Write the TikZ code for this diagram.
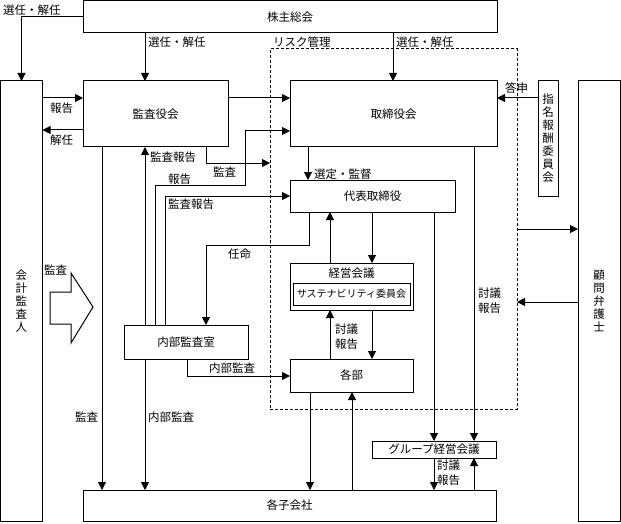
\documentclass[tikz,border=0pt]{standalone}
\usepackage{fontspec}
\setmainfont{Noto Sans CJK JP}
\usetikzlibrary{arrows.meta}
\begin{document}
\begin{tikzpicture}[x=1pt,y=-1pt,
  every node/.style={inner sep=0pt,outer sep=0pt},
  box/.style={draw,line width=1pt,anchor=north west,font=\fontsize{11.5}{13}\selectfont,align=center},
  lbl/.style={anchor=west,font=\fontsize{11.5}{15}\selectfont,align=left},
  arr/.style={line width=1pt,-{Triangle[length=8pt,width=8pt]}},
  ln/.style={line width=1pt}]
\useasboundingbox (0,0) rectangle (621,524);
% boxes
\node[box,minimum width=414pt,minimum height=32pt] (kabu) at (83,1) {株主総会};
\node[box,minimum width=42pt,minimum height=440pt] (kaikei) at (0.5,81) {会\\計\\監\\査\\人};
\node[box,minimum width=145pt,minimum height=66pt] (kansa) at (83,81) {監査役会};
\node[box,minimum width=207pt,minimum height=66pt] (tori) at (290,81) {取締役会};
\node[box,minimum width=20pt,minimum height=115pt] (shimei) at (538,81) {指\\名\\報\\酬\\委\\員\\会};
\node[box,minimum width=42pt,minimum height=440pt] (komon) at (578,81) {顧\\問\\弁\\護\\士};
\node[draw,dashed,dash pattern=on 3pt off 2pt,line width=1pt,anchor=north west,minimum width=247pt,minimum height=360pt] (risk) at (270,49) {};
\node[box,minimum width=165pt,minimum height=32pt] (daihyo) at (290,180) {代表取締役};
\node[box,minimum width=123pt,minimum height=47pt] (keiei) at (290,263) {};
\node[font=\fontsize{11.5}{13}\selectfont] (keieit) at (351.5,273) {経営会議};
\node[box,minimum width=117pt,minimum height=22pt,font=\fontsize{10}{12}\selectfont] (sust) at (293,283) {サステナビリティ委員会};
\node[box,minimum width=124pt,minimum height=34pt] (naibu) at (124,325) {内部監査室};
\node[box,minimum width=123pt,minimum height=33pt] (kakubu) at (290,359) {各部};
\node[box,minimum width=124pt,minimum height=17pt] (group) at (372,441) {グループ経営会議};
\node[box,minimum width=413pt,minimum height=31pt] (kogaisha) at (83,490) {各子会社};
% block arrow
\draw[ln,fill=white] (50,292) -- (71,292) -- (71,273) -- (93,307) -- (71,343) -- (71,324) -- (50,324) -- cycle;
% connectors
\draw[arr] (kabu.west) -| (kaikei.north);
\draw[arr] (kabu.south -| 145,0) -- (kansa.north -| 145,0);
\draw[arr] (kabu.south -| 393,0) -- (tori.north -| 393,0);
\draw[arr] (kaikei.east |- 0,98) -- (kansa.west |- 0,98);
\draw[arr] (kansa.west |- 0,130) -- (kaikei.east |- 0,130);
\draw[arr] (kansa.east |- 0,98) -- (tori.west |- 0,98);
\draw[arr] (shimei.west |- 0,98) -- (tori.east |- 0,98);
\draw[arr] (kansa.south -| 206,0) |- (risk.west |- 0,163);
\draw[arr] (naibu.north -| 155,0) |- (245,185) |- (tori.west |- 0,131);
\draw[arr] (naibu.north -| 145,0) -- (kansa.south -| 145,0);
\draw[arr] (naibu.north -| 165,0) |- (daihyo.west |- 0,196);
\draw[arr] (tori.south -| 308,0) -- (daihyo.north -| 308,0);
\draw[arr] (daihyo.south -| 309,0) |- (206,245) -- (naibu.north -| 206,0);
\draw[arr] (daihyo.south -| 372,0) -- (keiei.north -| 372,0);
\draw[arr] (keiei.north -| 330,0) -- (daihyo.south -| 330,0);
\draw[arr] (kakubu.north -| 330,0) -- (keiei.south -| 330,0);
\draw[arr] (keiei.south -| 372,0) -- (kakubu.north -| 372,0);
\draw[arr] (naibu.south -| 187,0) |- (kakubu.west |- 0,376);
\draw[arr] (kansa.south -| 102,0) -- (kogaisha.north -| 102,0);
\draw[arr] (naibu.south -| 145,0) -- (kogaisha.north -| 145,0);
\draw[arr] (kakubu.south -| 310,0) -- (kogaisha.north -| 310,0);
\draw[arr] (kogaisha.north -| 352,0) -- (kakubu.south -| 352,0);
\draw[arr] (daihyo.south -| 434,0) -- (group.north -| 434,0);
\draw[arr] (tori.south -| 474,0) -- (group.north -| 474,0);
\draw[arr] (group.south -| 434,0) -- (kogaisha.north -| 434,0);
\draw[arr] (kogaisha.north -| 474,0) -- (group.south -| 474,0);
\draw[arr] (risk.east |- 0,229) -- (komon.west |- 0,229);
\draw[arr] (komon.west |- 0,302) -- (risk.east |- 0,302);
% labels
\node[lbl] (l1) at (3,10) {選任・解任};
\node[lbl] (l2) at (148,42) {選任・解任};
\node[lbl] (l3) at (273,42) {リスク管理};
\node[lbl] (l4) at (396,42) {選任・解任};
\node[lbl] (l5) at (50,108) {報告};
\node[lbl] (l6) at (50,140) {解任};
\node[lbl] (l7) at (505,88) {答申};
\node[lbl] (l8) at (150,157) {監査報告};
\node[lbl] (l9) at (213,172) {監査};
\node[lbl] (l10) at (168,179) {報告};
\node[lbl] (l11) at (314,174) {選定・監督};
\node[lbl] (l12) at (168,204) {監査報告};
\node[lbl] (l13) at (228,254) {任命};
\node[lbl] (l14) at (44,270) {監査};
\node[lbl,anchor=north west] (l15) at (478,288) {討議\\報告};
\node[lbl,anchor=north west] (l16) at (335,324) {討議\\報告};
\node[lbl] (l17) at (209,368) {内部監査};
\node[lbl] (l18) at (75,417) {監査};
\node[lbl] (l19) at (148,417) {内部監査};
\node[lbl,anchor=north west] (l20) at (437,460) {討議\\報告};
\end{tikzpicture}
\end{document}
